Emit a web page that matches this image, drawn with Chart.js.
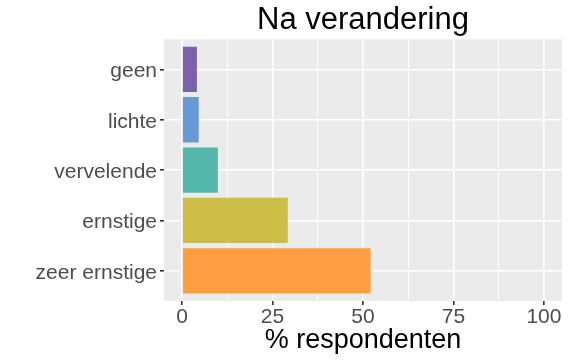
<!DOCTYPE html>
<html lang="nl">
<head>
  <meta charset="UTF-8">
  <title>Na verandering</title>
  <style>
    html, body { margin: 0; padding: 0; background: #fff; }
    #wrap { width: 570px; height: 361px; }
  </style>
</head>
<body>
  <div id="wrap"><canvas id="chart" width="570" height="361"></canvas></div>

  <script src="https://cdn.jsdelivr.net/npm/chart.js"></script>
  <script>
    // data (top to bottom)
    const categories = ['geen', 'lichte', 'vervelende', 'ernstige', 'zeer ernstige'];
    const values = [4.1, 4.6, 9.9, 29.2, 52.1];
    const xTicks = [0, 25, 50, 75, 100];
    const xMinorTicks = [12.5, 37.5, 62.5, 87.5];

    const barColors = ['#7B62AB', '#6699D6', '#54B8AB', '#CBBD46', '#FF9D42'];
    const FONT = '"Liberation Sans", Arial, sans-serif';

    // grey panel behind the plot, ggplot style
    const panelBg = {
      id: 'panelBg',
      beforeDraw(chart) {
        const a = chart.chartArea;
        const ctx = chart.ctx;
        ctx.save();
        ctx.fillStyle = '#EBEBEB';
        ctx.fillRect(a.left, a.top, a.right - a.left, a.bottom - a.top);
        ctx.restore();
      }
    };

    const isMajor = v => xTicks.includes(v);

    new Chart(document.getElementById('chart'), {
      type: 'bar',
      data: {
        datasets: [{
          data: values.map((v, i) => ({ x: v, y: i })),
          backgroundColor: barColors,
          borderWidth: 0,
          categoryPercentage: 1,
          barPercentage: 0.9
        }]
      },
      options: {
        indexAxis: 'y',
        responsive: false,
        animation: false,
        layout: { padding: { right: 8 } },
        plugins: {
          legend: { display: false },
          tooltip: { enabled: false },
          title: {
            display: true,
            text: 'Na verandering',
            fullSize: false,
            color: '#000',
            font: { family: FONT, size: 31, weight: 'normal' },
            padding: { top: 2, bottom: 0 }
          }
        },
        scales: {
          x: {
            type: 'linear',
            min: -5,
            max: 105,
            afterBuildTicks: s => {
              s.ticks = xTicks.concat(xMinorTicks).sort((a, b) => a - b).map(v => ({ value: v }));
            },
            afterFit: s => { s.height = 60; },
            border: { display: false },
            grid: {
              color: '#FFFFFF',
              lineWidth: c => isMajor(c.tick.value) ? 1.6 : 0.8,
              tickColor: c => isMajor(c.tick.value) ? '#333333' : 'rgba(0,0,0,0)',
              tickLength: 4
            },
            ticks: {
              autoSkip: false,
              maxRotation: 0,
              padding: 0,
              color: '#4D4D4D',
              font: { family: FONT, size: 21 },
              callback: v => isMajor(v) ? String(v) : ''
            },
            title: {
              display: true,
              text: '% respondenten',
              color: '#000',
              font: { family: FONT, size: 27 },
              padding: { top: 0, bottom: 4 }
            }
          },
          y: {
            type: 'linear',
            min: -0.6,
            max: 4.6,
            reverse: true,
            offset: false,
            afterBuildTicks: s => {
              s.ticks = categories.map((c, i) => ({ value: i }));
            },
            afterFit: s => { s.width = 164; },
            border: { display: false },
            grid: {
              offset: false,
              color: '#FFFFFF',
              lineWidth: 1.6,
              tickColor: '#333333',
              tickLength: 4
            },
            ticks: {
              autoSkip: false,
              padding: 3,
              labelOffset: 2,
              color: '#4D4D4D',
              font: { family: FONT, size: 21 },
              callback: v => categories[v]
            }
          }
        }
      },
      plugins: [panelBg]
    });
  </script>
</body>
</html>
